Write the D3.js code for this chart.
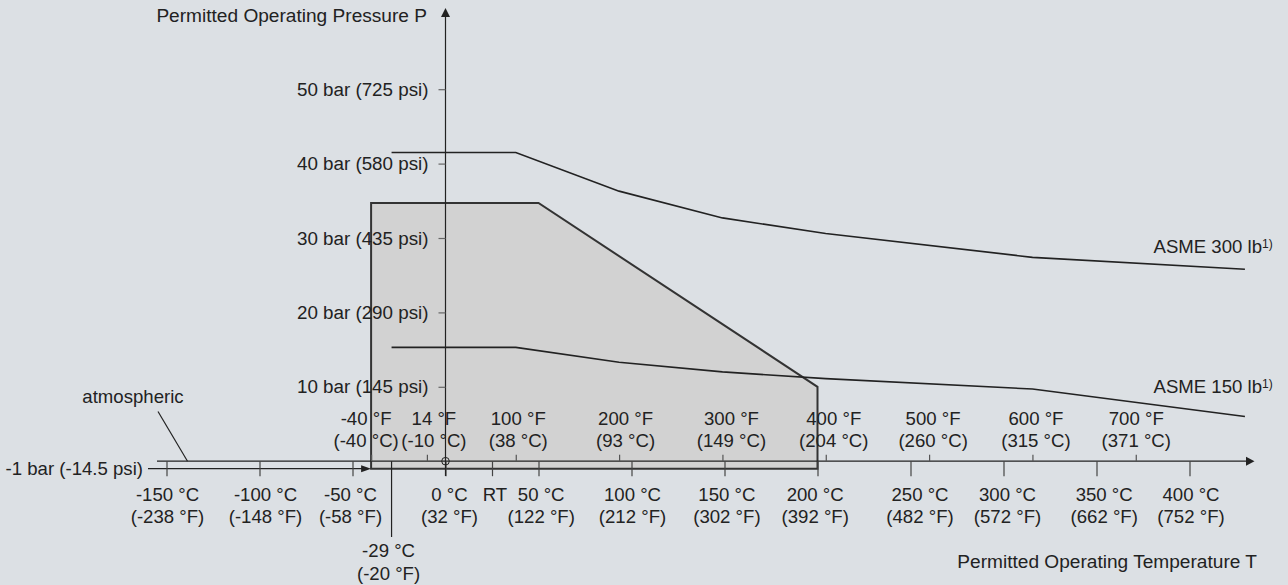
<!DOCTYPE html>
<html>
<head>
<meta charset="utf-8">
<script src="https://cdn.jsdelivr.net/npm/d3@7"></script>
<style>
  html, body { margin: 0; padding: 0; background: #dce0e4; }
  svg { display: block; }
  text { font-family: "Liberation Sans", Arial, sans-serif; font-size: 18.6px; fill: #222; }
  text.title { font-size: 19.1px; }
</style>
</head>
<body>
<svg id="chart" width="1288" height="585"></svg>
<script>
// Celsius scale ticks along the bottom, with their Fahrenheit equivalents
const celsiusTicks = [-150, -100, -50, 0, 50, 100, 150, 200, 250, 300, 350, 400];
const celsiusTickF = [-238, -148, -58, 32, 122, 212, 302, 392, 482, 572, 662, 752];

// Fahrenheit ticks above the axis, with their Celsius equivalents
const fahrenheitTicks = [-40, 14, 100, 200, 300, 400, 500, 600, 700];
const fahrenheitTickC = [-40, -10, 38, 93, 149, 204, 260, 315, 371];

// Pressure ticks (bar) and psi equivalents
const pressureTicks = [10, 20, 30, 40, 50];
const pressureTickPsi = [145, 290, 435, 580, 725];

// Permitted operating range (temperature °C, pressure bar)
const rangeTemp = [-40, -40, 50, 200, 200];
const rangePressure = [-1, 34.7, 34.7, 10, -1];

// ASME flange ratings
const asmeTemp = [-29, 37.8, 93.3, 148.9, 204.4, 315.6, 429.8];
const asme300 = [41.5, 41.5, 36.3, 32.7, 30.6, 27.4, 25.8];
const asme150 = [15.3, 15.3, 13.3, 12.0, 11.1, 9.7, 6.0];

const roomTemp = 25;
const minTemp = -29;
const minTempF = -20;

const svg = d3.select("#chart");
const ink = "#222";

const x = d3.scaleLinear().domain([0, 400]).range([445.5, 1189.5]);
const y = d3.scaleLinear().domain([0, 50]).range([461.2, 89.2]);
const fToC = f => (f - 32) * 5 / 9;

svg.append("rect").attr("width", 1288).attr("height", 585).attr("fill", "#dce0e4");

// permitted operating range
const rangePts = rangeTemp.map((t, i) => [x(t), y(rangePressure[i])]);
svg.append("path")
  .attr("d", d3.line()(rangePts) + "Z")
  .attr("fill", "#d2d2d2")
  .attr("stroke", "#333")
  .attr("stroke-width", 2)
  .attr("stroke-linejoin", "miter");

// ASME curves
const curve = d3.line().x((d, i) => x(asmeTemp[i])).y(d => y(d));
[asme300, asme150].forEach(series => {
  svg.append("path")
    .attr("d", curve(series))
    .attr("fill", "none")
    .attr("stroke", ink)
    .attr("stroke-width", 1.6);
});

// temperature axis (atmospheric pressure line)
const y0 = y(0);
svg.append("line")
  .attr("x1", 157).attr("x2", 1248).attr("y1", y0).attr("y2", y0)
  .attr("stroke", ink).attr("stroke-width", 1.2);
svg.append("path")
  .attr("d", `M1254.5,${y0} L1246,${y0 - 4.5} L1246,${y0 + 4.5} Z`)
  .attr("fill", ink);

// -1 bar line with arrow into the range
const yNeg = y(-1);
svg.append("line")
  .attr("x1", 148).attr("x2", x(-40) - 8).attr("y1", yNeg).attr("y2", yNeg)
  .attr("stroke", ink).attr("stroke-width", 1.2);
svg.append("path")
  .attr("d", `M${x(-40)},${yNeg} L${x(-40) - 10},${yNeg - 3.5} L${x(-40) - 10},${yNeg + 3.5} Z`)
  .attr("fill", ink);
svg.append("text")
  .attr("x", 143).attr("y", yNeg).attr("dy", "0.35em")
  .attr("text-anchor", "end")
  .text("-1 bar (-14.5 psi)");

// atmospheric label and leader
svg.append("text")
  .attr("x", 133).attr("y", 396).attr("dy", "0.35em")
  .attr("text-anchor", "middle")
  .text("atmospheric");
svg.append("line")
  .attr("x1", 158).attr("y1", 411.5).attr("x2", 187.5).attr("y2", y0)
  .attr("stroke", ink).attr("stroke-width", 1.2);

// Celsius ticks (below) incl. room temperature
svg.append("g")
  .attr("transform", `translate(0,${y0})`)
  .call(d3.axisBottom(x).tickValues(celsiusTicks.concat([roomTemp])).tickSize(15).tickFormat(""))
  .call(g => g.select(".domain").remove())
  .call(g => g.selectAll(".tick line").attr("stroke", "#444").attr("stroke-width", 1.2));

// Fahrenheit ticks (above)
svg.append("g")
  .attr("transform", `translate(0,${y0})`)
  .call(d3.axisTop(x).tickValues(fahrenheitTicks.map(fToC)).tickSize(6.5).tickFormat(""))
  .call(g => g.select(".domain").remove())
  .call(g => g.selectAll(".tick line").attr("stroke", "#555").attr("stroke-width", 1.2));

// labels for the Celsius ticks
const cShift = { "-150": 1, "-100": 6, "-50": -2, "0": 4, "50": 2.7, "100": 1, "150": 2.4,
                 "200": -2.3, "250": 9.5, "300": 4, "350": 7.7, "400": 1.5 };
celsiusTicks.forEach((c, i) => {
  const t = svg.append("text").attr("text-anchor", "middle")
    .attr("transform", `translate(${x(c) + (cShift[c] || 0)},0)`);
  t.append("tspan").attr("x", 0).attr("y", 494).attr("dy", "0.35em").text(`${c} °C`);
  t.append("tspan").attr("x", 0).attr("y", 516.5).attr("dy", "0.35em").text(`(${celsiusTickF[i]} °F)`);
});
svg.append("text").attr("text-anchor", "middle")
  .attr("x", x(roomTemp) + 3).attr("y", 494).attr("dy", "0.35em").text("RT");

// labels for the Fahrenheit ticks
const fShift = { "-40": -5, "14": 7, "100": 2.5, "200": 6.5, "300": 9, "400": 8,
                 "500": 4, "600": 3.5, "700": 0.5 };
fahrenheitTicks.forEach((f, i) => {
  const t = svg.append("text").attr("text-anchor", "middle")
    .attr("transform", `translate(${x(fToC(f)) + (fShift[f] || 0)},0)`);
  t.append("tspan").attr("x", 0).attr("y", 418).attr("dy", "0.35em").text(`${f} °F`);
  t.append("tspan").attr("x", 0).attr("y", 440).attr("dy", "0.35em").text(`(${fahrenheitTickC[i]} °C)`);
});

// minimum temperature marker
svg.append("line")
  .attr("x1", x(minTemp)).attr("x2", x(minTemp)).attr("y1", y0).attr("y2", 537)
  .attr("stroke", ink).attr("stroke-width", 1.2);
{
  const t = svg.append("text").attr("text-anchor", "middle")
    .attr("transform", `translate(${x(minTemp) - 3},0)`);
  t.append("tspan").attr("x", 0).attr("y", 550.5).attr("dy", "0.35em").text(`${minTemp} °C`);
  t.append("tspan").attr("x", 0).attr("y", 573).attr("dy", "0.35em").text(`(${minTempF} °F)`);
}

// pressure axis
const x0 = x(0);
svg.append("line")
  .attr("x1", x0).attr("x2", x0).attr("y1", 16).attr("y2", 476)
  .attr("stroke", ink).attr("stroke-width", 1.2);
svg.append("path")
  .attr("d", `M${x0},8 L${x0 - 4.5},17 L${x0 + 4.5},17 Z`)
  .attr("fill", ink);
svg.append("g")
  .attr("transform", `translate(${x0},0)`)
  .call(d3.axisLeft(y).tickValues(pressureTicks).tickSize(7).tickPadding(10)
    .tickFormat((d, i) => `${d} bar (${pressureTickPsi[i]} psi)`))
  .call(g => g.select(".domain").remove())
  .call(g => g.selectAll(".tick line").attr("stroke", "#666").attr("stroke-width", 1.2))
  .call(g => g.selectAll(".tick text")
    .attr("fill", ink)
    .style("font-family", "\"Liberation Sans\", Arial, sans-serif")
    .style("font-size", "18.8px"));

// origin marker
svg.append("circle")
  .attr("cx", x0).attr("cy", y0).attr("r", 3.8)
  .attr("fill", "none").attr("stroke", ink).attr("stroke-width", 1);

// axis titles
svg.append("text").attr("class", "title")
  .attr("x", 427).attr("y", 15).attr("dy", "0.35em").attr("text-anchor", "end")
  .text("Permitted Operating Pressure P");
svg.append("text").attr("class", "title")
  .attr("x", 1257).attr("y", 561).attr("dy", "0.35em").attr("text-anchor", "end")
  .text("Permitted Operating Temperature T");

// curve labels
[["ASME 300 lb", 246.7], ["ASME 150 lb", 386.7]].forEach(([label, ly]) => {
  const t = svg.append("text").attr("x", 1153.5).attr("y", ly).attr("dy", "0.35em");
  t.append("tspan").text(label);
  t.append("tspan").attr("dy", "-0.45em").style("font-size", "12px").text("1)");
});
</script>
</body>
</html>
